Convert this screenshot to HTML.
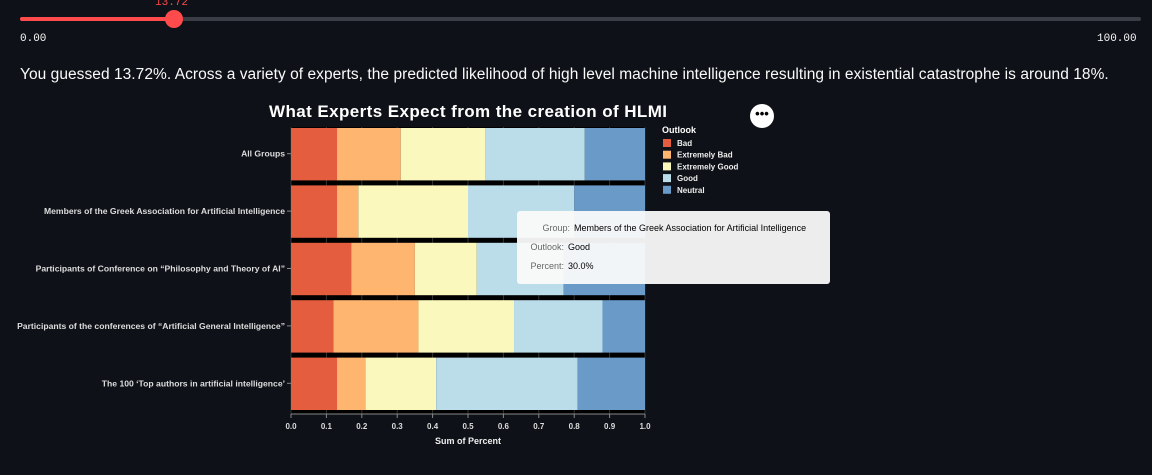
<!DOCTYPE html>
<html><head><meta charset="utf-8"><style>
body{margin:0;width:1152px;height:475px;background:#0e1117;overflow:hidden;font-family:"Liberation Sans",sans-serif;color:#fafafa;position:relative}
.abs{position:absolute}
.mono{font-family:"Liberation Mono",monospace;font-size:11px}
</style></head><body>
<div class="abs mono" style="left:155px;top:-3px;color:#ff4b4b;font-size:11px">13.72</div>
<div class="abs" style="left:20px;top:17px;width:1121px;height:4px;background:#3a3d46;border-radius:2px"></div>
<div class="abs" style="left:20px;top:17px;width:154px;height:4px;background:#ff4b4b;border-radius:2px"></div>
<div class="abs" style="left:165px;top:10px;width:18px;height:18px;background:#ff4b4b;border-radius:50%"></div>
<div class="abs mono" style="left:20px;top:33px">0.00</div>
<div class="abs mono" style="left:1097px;top:33px">100.00</div>
<div class="abs" style="left:20px;top:66px;font-size:15.5px;letter-spacing:0.05px">You guessed 13.72%. Across a variety of experts, the predicted likelihood of high level machine intelligence resulting in existential catastrophe is around 18%.</div>
<div class="abs" style="left:750px;top:104px;width:24px;height:24px;border-radius:50%;background:#fff;color:#000;text-align:center;font-weight:bold;font-size:13px;line-height:20px">•••</div>
<svg class="abs" style="left:0;top:0" width="1152" height="475" id="chart"></svg>
<div class="abs" style="left:517px;top:211px;width:313px;height:73px;background:rgba(250,250,250,0.95);border-radius:3px;font-size:9px;color:#000">
<div class="abs" style="left:0;top:12px;width:53px;text-align:right;color:#666">Group:</div><div class="abs" style="left:57px;top:12px">Members of the Greek Association for Artificial Intelligence</div>
<div class="abs" style="left:0;top:31px;width:47px;text-align:right;color:#666">Outlook:</div><div class="abs" style="left:51px;top:31px">Good</div>
<div class="abs" style="left:0;top:50px;width:47px;text-align:right;color:#666">Percent:</div><div class="abs" style="left:51px;top:50px">30.0%</div>
</div>
<script>
const groups=["All Groups","Members of the Greek Association for Artificial Intelligence","Participants of Conference on \u201cPhilosophy and Theory of AI\u201d","Participants of the conferences of \u201cArtificial General Intelligence\u201d","The 100 \u2018Top authors in artificial intelligence\u2019"];
const outlooks=["Bad","Extremely Bad","Extremely Good","Good","Neutral"];
const bad=[0.13,0.13,0.17,0.12,0.13];
const extremelyBad=[0.18,0.06,0.18,0.24,0.08];
const extremelyGood=[0.24,0.31,0.175,0.27,0.20];
const good=[0.28,0.30,0.245,0.25,0.40];
const neutral=[0.17,0.20,0.23,0.12,0.19];
const xTicks=[0,0.1,0.2,0.3,0.4,0.5,0.6,0.7,0.8,0.9,1.0];
const colors=["#e45d3f","#fdb570","#faf8bd","#badde9","#6a9ac8"];
const series=[bad,extremelyBad,extremelyGood,good,neutral];
const svg=document.getElementById('chart');const NS="http://www.w3.org/2000/svg";
const X0=291,X1=645,Y0=127,Y1=414;
const xs=v=>X0+v*(X1-X0);
const step=(Y1-Y0)/groups.length;
const ys=i=>Y0+i*step;
function el(t,a,p){const e=document.createElementNS(NS,t);for(const k in a)e.setAttribute(k,a[k]);(p||svg).appendChild(e);return e;}
const bg=el('rect',{x:X0,y:Y0,width:X1-X0,height:Y1-Y0,fill:'#000'});


xTicks.forEach(t=>{const l=el('line',{x1:xs(t),x2:xs(t),y1:Y0,y2:Y1,stroke:'#333','stroke-width':1});

});
groups.forEach((g,i)=>{let acc=0;
series.forEach((s,j)=>{const r=el('rect',{x:xs(acc),y:ys(i)+1,width:xs(acc+s[i])-xs(acc),height:step-5,fill:colors[j]});


acc+=s[i];});
const cy=ys(i)+(step-4)/2;
const tk=el('line',{x1:X0-4,x2:X0,y1:cy,y2:cy,stroke:'#888'});


const tx=el('text',{x:X0-6,y:cy+3,'text-anchor':'end','font-size':'8.6',fill:'#ddd','font-weight':'bold'});tx.textContent=g;

});
const ax=el('line',{x1:X0,x2:X1,y1:Y1,y2:Y1,stroke:'#888'});


xTicks.forEach(t=>{const l=el('line',{x1:xs(t),x2:xs(t),y1:Y1,y2:Y1+4,stroke:'#888'});


const tx=el('text',{x:xs(t),y:Y1+15,'text-anchor':'middle','font-size':'8',fill:'#ddd','font-weight':'bold'});tx.textContent=t.toFixed(1);

});
const xt=el('text',{x:(X0+X1)/2,y:Y1+30,'text-anchor':'middle','font-size':'9',fill:'#eee','font-weight':'bold'});xt.textContent='Sum of Percent';


const ti=el('text',{x:468,y:117,'text-anchor':'middle','font-size':'17','textLength':'398',fill:'#fff','font-weight':'bold'});ti.textContent='What Experts Expect from the creation of HLMI';


const lt=el('text',{x:662,y:133,'font-size':'9',fill:'#fff','font-weight':'bold'});lt.textContent='Outlook';


outlooks.forEach((o,j)=>{const y=139+j*11.7;
const r=el('rect',{x:663,y:y,width:8,height:8,fill:colors[j]});


const t=el('text',{x:677,y:y+7,'font-size':'8',fill:'#eee','font-weight':'bold'});t.textContent=o;

});
</script>
</body></html>
